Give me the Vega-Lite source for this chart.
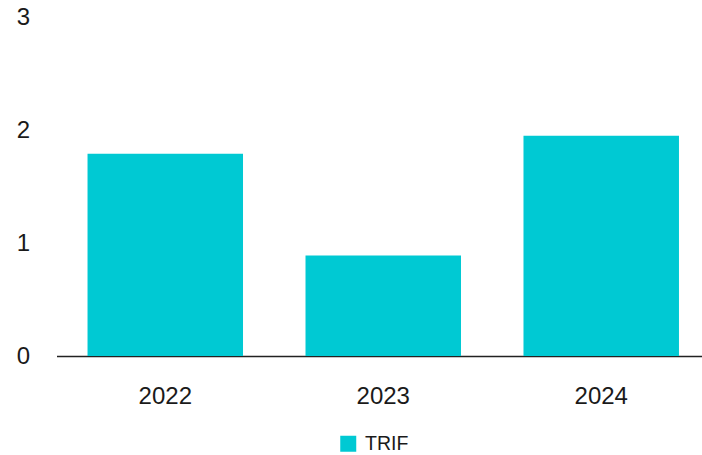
{
  "$schema": "https://vega.github.io/schema/vega-lite/v6.json",
  "width": 645.5,
  "height": 339,
  "autosize": "none",
  "padding": {"left": 56.5, "top": 17, "right": 0, "bottom": 99},
  "background": "white",
  "config": {
    "view": {"stroke": null},
    "font": "Liberation Sans"
  },
  "data": {
    "values": [
      {"year": "2022", "series": "TRIF", "value": 1.79},
      {"year": "2023", "series": "TRIF", "value": 0.89},
      {"year": "2024", "series": "TRIF", "value": 1.95}
    ]
  },
  "mark": {"type": "bar"},
  "encoding": {
    "x": {
      "field": "year",
      "type": "nominal",
      "scale": {"paddingInner": 0.2867, "paddingOuter": 0.124, "align": 0.574},
      "axis": {
        "title": null,
        "labelAngle": 0,
        "labelFontSize": 24,
        "labelColor": "#1a1a1a",
        "labelPadding": 28,
        "ticks": false,
        "grid": false,
        "domainColor": "#222222",
        "domainWidth": 1.5
      }
    },
    "y": {
      "field": "value",
      "type": "quantitative",
      "scale": {"domain": [0, 3], "nice": false},
      "axis": {
        "title": null,
        "values": [0, 1, 2, 3],
        "labelFontSize": 24,
        "labelColor": "#1a1a1a",
        "labelPadding": 27,
        "ticks": false,
        "grid": false,
        "domain": false
      }
    },
    "color": {
      "field": "series",
      "type": "nominal",
      "scale": {"range": ["#00C9D3"]},
      "legend": {
        "title": null,
        "orient": "none",
        "legendX": 282,
        "legendY": 417,
        "direction": "horizontal",
        "padding": 0,
        "symbolType": "square",
        "symbolSize": 256,
        "symbolStrokeWidth": 0,
        "labelFontSize": 19.5,
        "labelColor": "#1a1a1a",
        "labelOffset": 7
      }
    }
  }
}
